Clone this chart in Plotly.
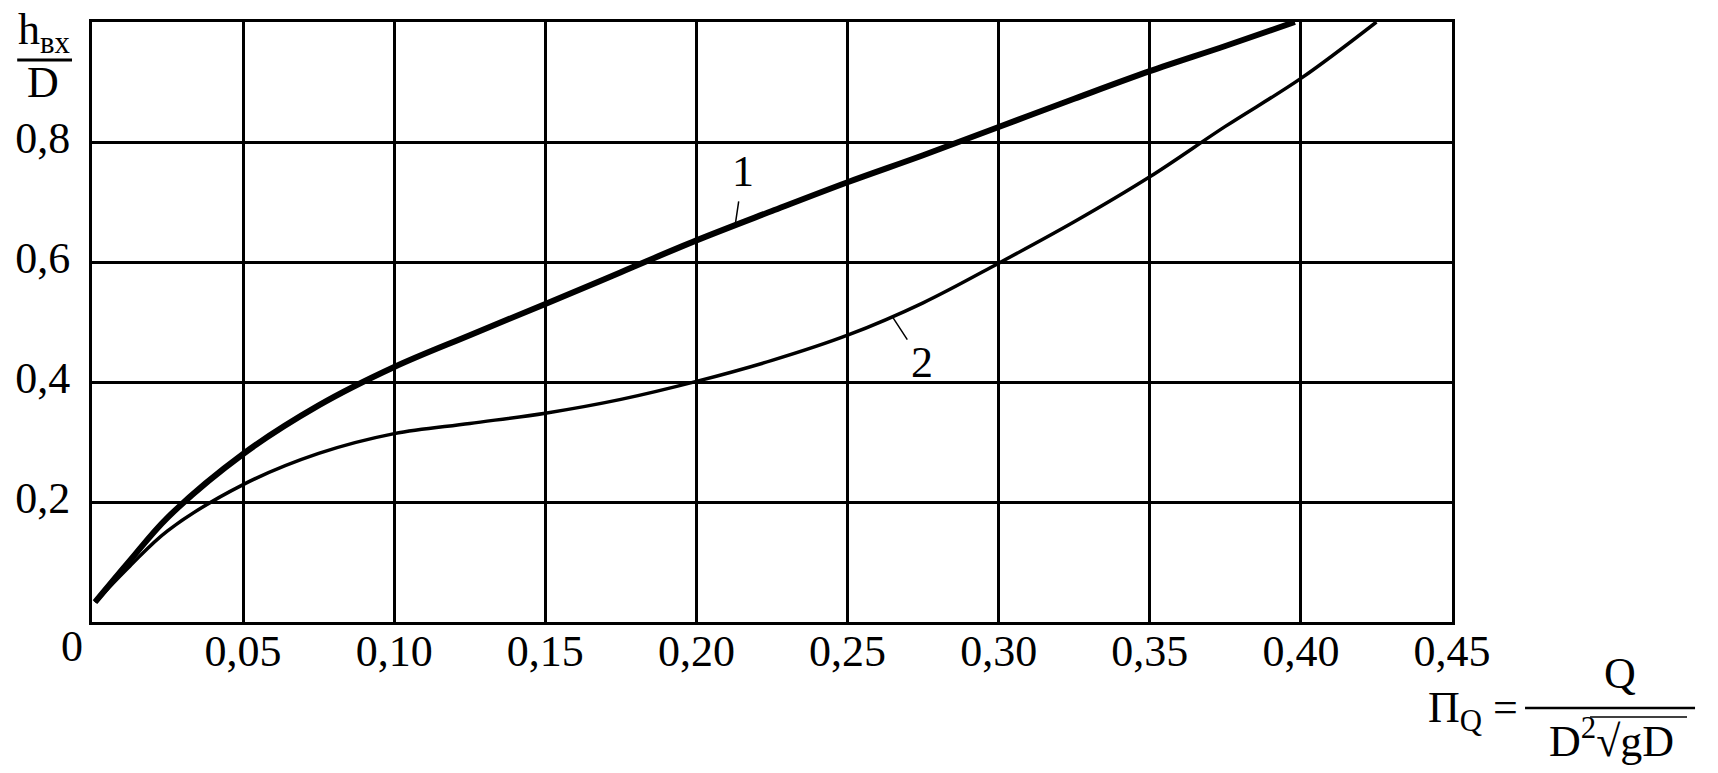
import numpy as np
import plotly.graph_objects as go

# ---- data ----
curve1_x = [0.001, 0.0125, 0.025, 0.05, 0.075, 0.10, 0.125, 0.15, 0.175, 0.20, 0.225, 0.25, 0.275, 0.30, 0.325, 0.35, 0.375, 0.398]
curve1_y = [0.033, 0.102, 0.174, 0.280, 0.361, 0.425, 0.478, 0.530, 0.583, 0.636, 0.685, 0.733, 0.778, 0.825, 0.872, 0.918, 0.960, 1.0]

curve2_x = [0.001, 0.0125, 0.025, 0.05, 0.075, 0.10, 0.125, 0.15, 0.175, 0.20, 0.225, 0.25, 0.275, 0.30, 0.325, 0.35, 0.375, 0.40, 0.425]
curve2_y = [0.033, 0.093, 0.152, 0.229, 0.281, 0.314, 0.331, 0.348, 0.371, 0.401, 0.436, 0.478, 0.532, 0.598, 0.667, 0.742, 0.826, 0.906, 1.0]

x_ticks = [0.05, 0.10, 0.15, 0.20, 0.25, 0.30, 0.35, 0.40, 0.45]
x_tick_text = ["0,05", "0,10", "0,15", "0,20", "0,25", "0,30", "0,35", "0,40", "0,45"]
y_ticks = [0.2, 0.4, 0.6, 0.8]
y_tick_text = ["0,2", "0,4", "0,6", "0,8"]

curve_labels = ["1", "2"]
label_x = [0.2128, 0.2647]

FONT = "Liberation Serif"
FS = 44

fig = go.Figure()
fig.add_trace(go.Scatter(x=curve1_x, y=curve1_y, mode="lines",
                         line=dict(color="black", width=6, shape="spline", smoothing=1.0),
                         showlegend=False, hoverinfo="skip"))
fig.add_trace(go.Scatter(x=curve2_x, y=curve2_y, mode="lines",
                         line=dict(color="black", width=3.5, shape="spline", smoothing=1.0),
                         showlegend=False, hoverinfo="skip"))

# curve labels with leader lines
fig.add_annotation(x=label_x[0], y=float(np.interp(label_x[0], curve1_x, curve1_y)),
                   xref="x", yref="y", text=curve_labels[0], showarrow=True,
                   arrowhead=0, arrowwidth=1.5, arrowcolor="black", ax=8, ay=-54,
                   startstandoff=4, font=dict(family=FONT, size=FS, color="black"))
fig.add_annotation(x=label_x[1], y=float(np.interp(label_x[1], curve2_x, curve2_y)),
                   xref="x", yref="y", text=curve_labels[1], showarrow=True,
                   arrowhead=0, arrowwidth=1.5, arrowcolor="black", ax=30, ay=46,
                   startstandoff=4, font=dict(family=FONT, size=FS, color="black"))

# "0" label at origin (offset left in the reference)
fig.add_annotation(x=0, y=0, xref="x", yref="y", text="0", showarrow=False,
                   xanchor="center", yanchor="top", xshift=-20, yshift=2,
                   font=dict(family=FONT, size=FS, color="black"))

# y-axis title as a fraction h_вх / D
fig.add_annotation(x=-0.0346, y=0.983, xref="paper", yref="paper",
                   text="h<sub>вх</sub>", showarrow=False, xanchor="center", yanchor="middle",
                   font=dict(family=FONT, size=FS, color="black"))
fig.add_shape(type="line", xref="paper", yref="paper", x0=-0.055, x1=-0.0147,
              y0=0.9367, y1=0.9367, line=dict(color="black", width=3))
fig.add_annotation(x=-0.036, y=0.899, xref="paper", yref="paper",
                   text="D", showarrow=False, xanchor="center", yanchor="middle",
                   font=dict(family=FONT, size=FS, color="black"))

# x-axis title: Π_Q = Q / (D² √gD)
fig.add_annotation(x=1.05, y=-0.1467, xref="paper", yref="paper",
                   text="Π<sub>Q</sub> =", showarrow=False, xanchor="right", yanchor="middle",
                   font=dict(family=FONT, size=FS, color="black"))
fig.add_shape(type="line", xref="paper", yref="paper", x0=1.0537, x1=1.1787,
              y0=-0.1433, y1=-0.1433, line=dict(color="black", width=2.5))
fig.add_annotation(x=1.1235, y=-0.13, xref="paper", yref="paper",
                   text="Q", showarrow=False, xanchor="center", yanchor="bottom",
                   font=dict(family=FONT, size=FS, color="black"))
fig.add_annotation(x=1.1176, y=-0.145, xref="paper", yref="paper",
                   text="D<sup>2</sup>√gD", showarrow=False, xanchor="center", yanchor="top",
                   font=dict(family=FONT, size=FS, color="black"))
fig.add_shape(type="line", xref="paper", yref="paper", x0=1.1015, x1=1.1728,
              y0=-0.1583, y1=-0.1583, line=dict(color="black", width=1.5))

# the page adds an 8px body margin; size the figure so the plot area lands where the reference's does
fig.update_layout(
    width=1710, height=765,
    margin=dict(l=84, r=266, t=14, b=151),
    paper_bgcolor="white", plot_bgcolor="white",
    font=dict(family=FONT, size=FS, color="black"),
    showlegend=False,
)
fig.update_xaxes(range=[0, 0.45], tickvals=x_ticks, ticktext=x_tick_text,
                 showgrid=True, gridcolor="black", gridwidth=3,
                 showline=True, linecolor="black", linewidth=3, mirror=True,
                 ticks="", ticklabelstandoff=-12, zeroline=False, automargin=False,
                 tickfont=dict(family=FONT, size=FS, color="black"))
fig.update_yaxes(range=[0, 1.0], tickvals=y_ticks, ticktext=y_tick_text,
                 showgrid=True, gridcolor="black", gridwidth=3,
                 showline=True, linecolor="black", linewidth=3, mirror=True,
                 ticks="", ticklabelstandoff=10, ticklabelshift=-4, zeroline=False, automargin=False,
                 tickfont=dict(family=FONT, size=FS, color="black"))

fig.write_html("out.html")
